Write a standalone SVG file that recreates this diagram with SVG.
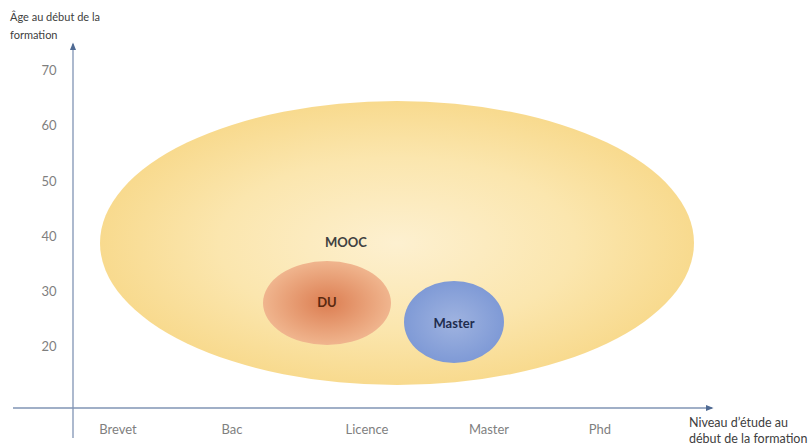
<svg xmlns="http://www.w3.org/2000/svg" width="810" height="445" viewBox="0 0 810 445">
<style>
.ax{stroke:#8094b4;stroke-width:1.3;fill:none}
.tk{font-family:Lato,"Liberation Sans",sans-serif;font-size:13px;fill:#7f7f7f;text-anchor:middle}
.tt{font-family:Lato,"Liberation Sans",sans-serif;font-size:11px;fill:#404040}
.tb{font-family:Lato,"Liberation Sans",sans-serif;font-size:12.5px;fill:#404040}
.lb{font-family:Lato,"Liberation Sans",sans-serif;font-size:13px;font-weight:bold;text-anchor:middle}
</style>
<defs>
<marker id="ar" viewBox="0 0 10 10" refX="8" refY="5" markerWidth="6" markerHeight="6" orient="auto"><path d="M0,1 L10,5 L0,9 z" fill="#4f6a93"/></marker>
<radialGradient id="gy" cx="0.5" cy="0.5" r="0.5"><stop offset="0" stop-color="#fdf0d0"/><stop offset="0.6" stop-color="#fbe6ae"/><stop offset="1" stop-color="#f8da8e"/></radialGradient>
<radialGradient id="go" cx="0.5" cy="0.5" r="0.5"><stop offset="0" stop-color="#dc7e52"/><stop offset="1" stop-color="#f0b58e"/></radialGradient>
<radialGradient id="gb" cx="0.5" cy="0.5" r="0.5"><stop offset="0" stop-color="#9fb3e0"/><stop offset="1" stop-color="#7f9ad6"/></radialGradient>
</defs>
<g id="mooc"><ellipse cx="397" cy="243" rx="297" ry="142" fill="url(#gy)"/><text class="lb" x="346" y="247" fill="#404040">MOOC</text></g>
<g id="du"><ellipse cx="327" cy="303" rx="64" ry="42" fill="url(#go)"/><text class="lb" x="327" y="307" fill="#5a2a10">DU</text></g>
<g id="master"><ellipse cx="454" cy="322" rx="50" ry="41" fill="url(#gb)"/><text class="lb" x="454" y="328" fill="#1f2d4f">Master</text></g>
<g id="axes">
<line class="ax" x1="73" y1="438" x2="73" y2="44" marker-end="url(#ar)"/>
<line class="ax" x1="13" y1="408" x2="712" y2="408" marker-end="url(#ar)"/>
</g>
<g id="ylabels">
<text class="tk" x="49" y="75">70</text>
<text class="tk" x="49" y="130">60</text>
<text class="tk" x="49" y="186">50</text>
<text class="tk" x="49" y="241">40</text>
<text class="tk" x="49" y="296">30</text>
<text class="tk" x="49" y="351">20</text>
</g>
<g id="xlabels">
<text class="tk" x="118" y="434">Brevet</text>
<text class="tk" x="232" y="434">Bac</text>
<text class="tk" x="367" y="434">Licence</text>
<text class="tk" x="489" y="434">Master</text>
<text class="tk" x="600" y="434">Phd</text>
</g>
<g id="titles">
<text class="tt" x="10" y="21">Âge au début de la</text>
<text class="tt" x="10" y="39">formation</text>
<text class="tb" x="689" y="427">Niveau d’étude au</text>
<text class="tb" x="689" y="443">début de la formation</text>
</g>
</svg>
